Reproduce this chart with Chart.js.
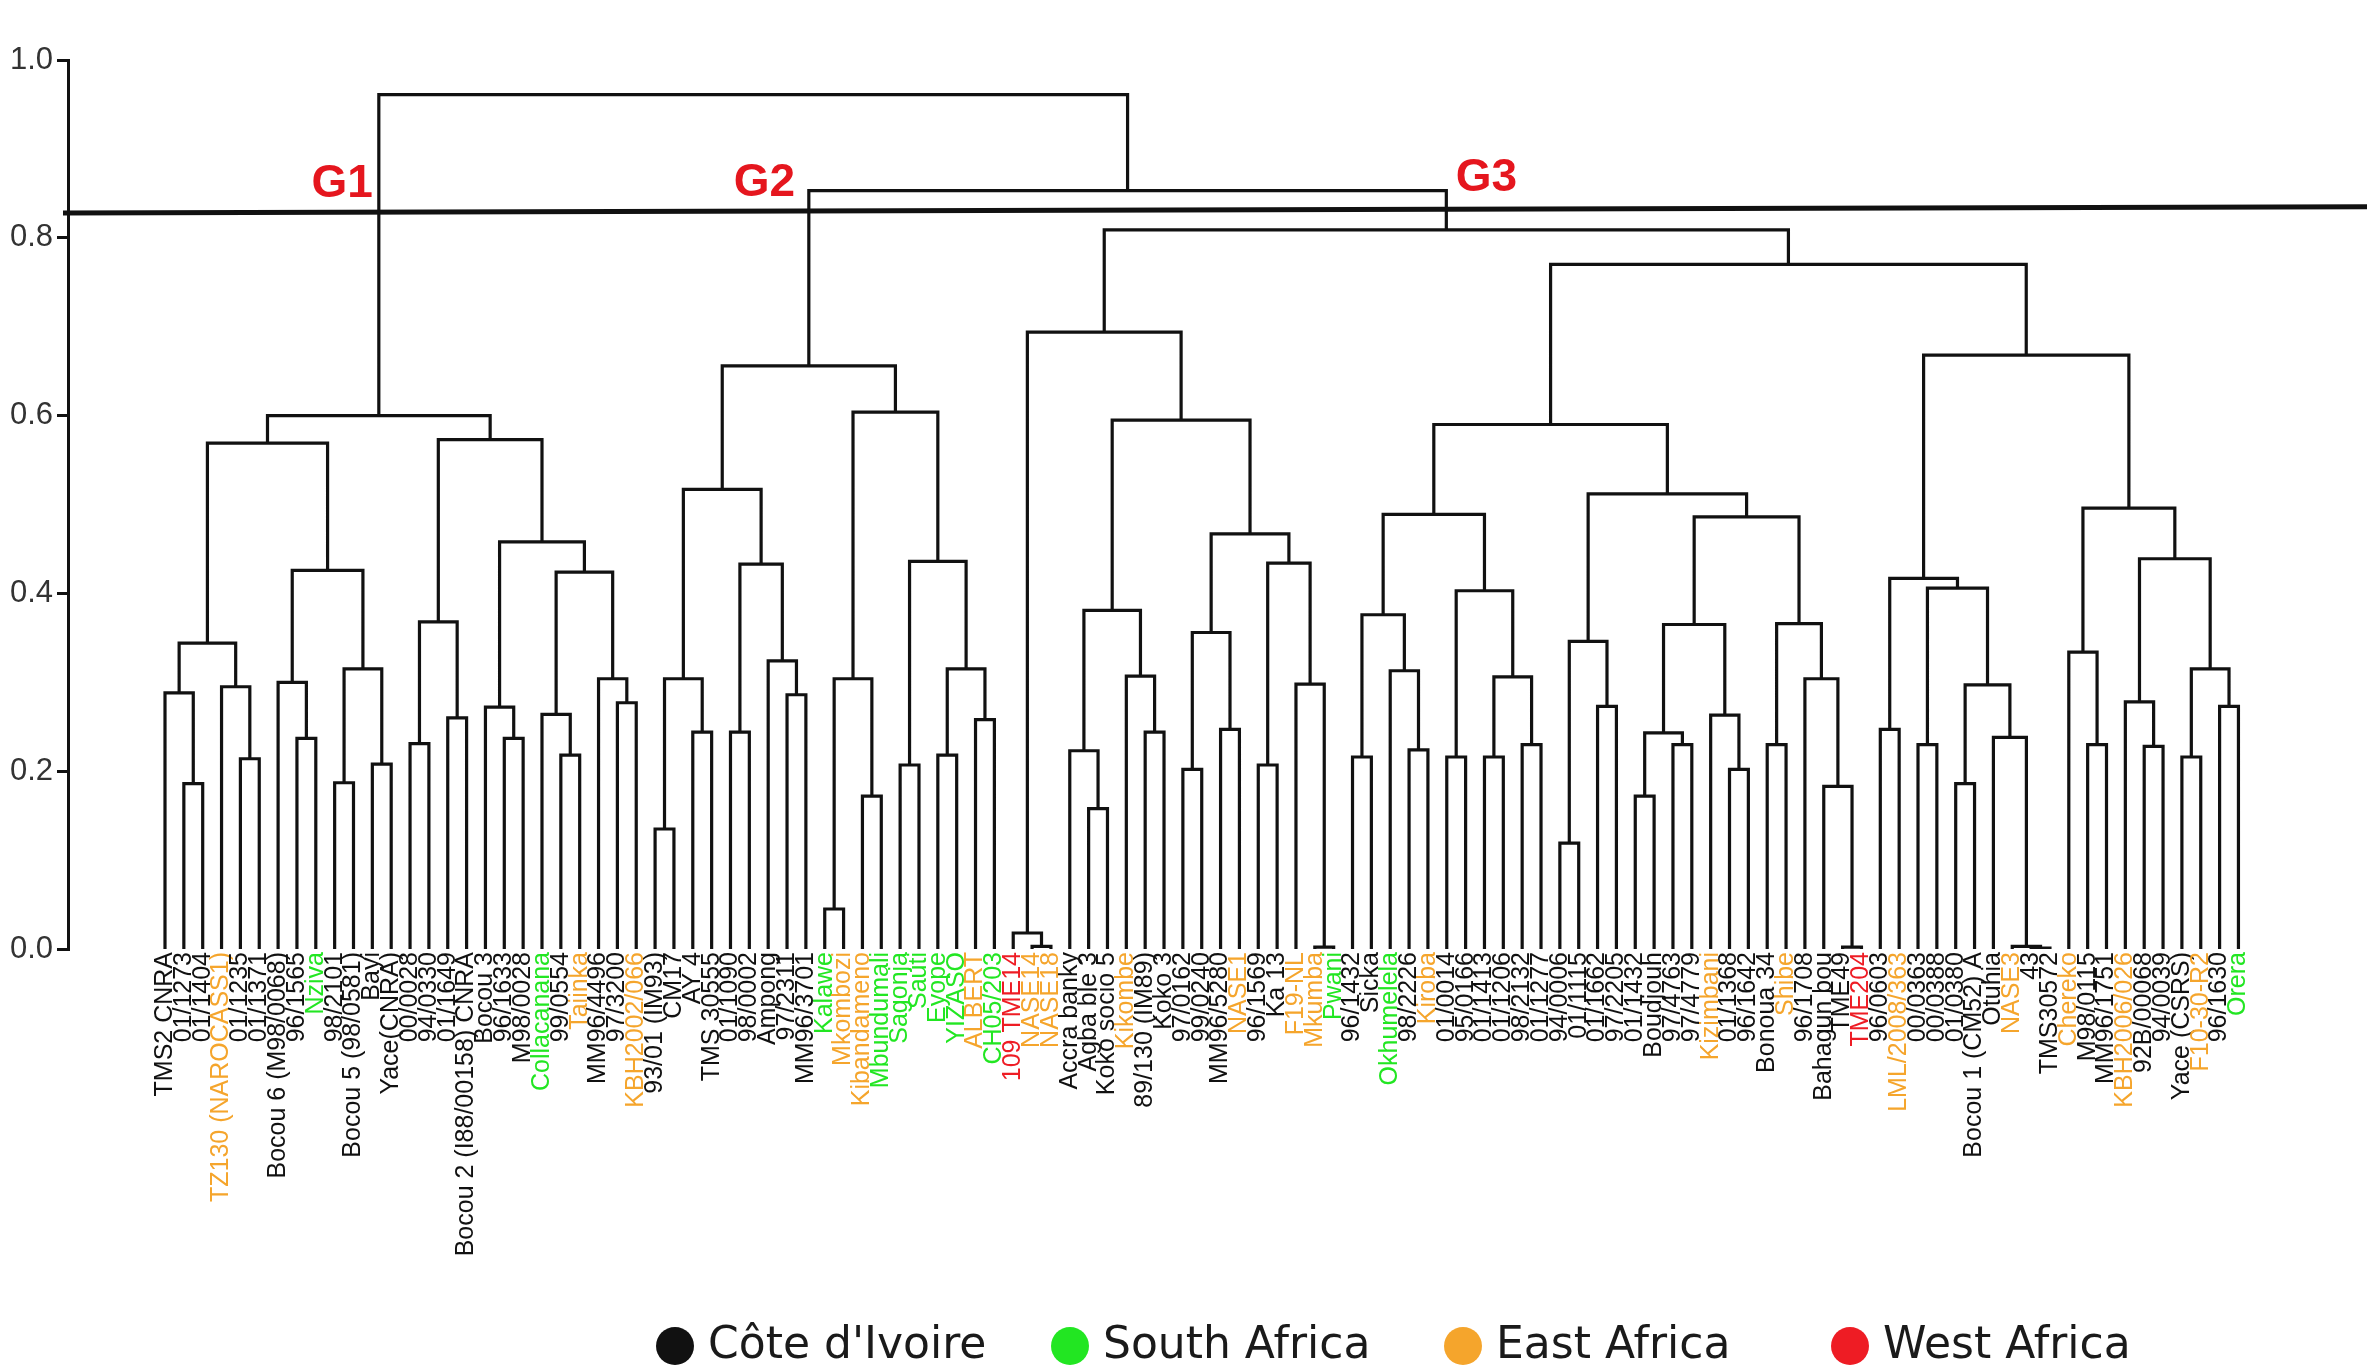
<!DOCTYPE html>
<html>
<head>
<meta charset="utf-8">
<script src="https://cdn.jsdelivr.net/npm/chart.js@4.4.1/dist/chart.umd.min.js"></script>
<style>
  html, body { margin: 0; padding: 0; background: #ffffff; }
  #wrap { width: 2372px; height: 1371px; position: relative; }
</style>
</head>
<body>
<div id="wrap"><canvas id="dendro"></canvas></div>
<script>
// Accessions in dendrogram order (left to right)
const leaves = [
  "TMS2 CNRA", "01/1273", "01/1404", "TZ130 (NAROCASS1)", "01/1235", "01/1371",
  "Bocou 6 (M98/0068)", "96/1565", "Nziva", "98/2101", "Bocou 5 (98/0581)", "Bayi",
  "Yace(CNRA)", "00/0028", "94/0330", "01/1649", "Bocou 2 (I88/00158) CNRA", "Bocou 3",
  "96/1633", "M98/0028", "Collacanana", "99/0554", "Taiinka", "MM96/4496",
  "97/3200", "KBH2002/066", "93/01 (IM93)", "CM17", "AY 4", "TMS 30555",
  "01/1090", "98/0002", "Ampong", "97/2311", "MM96/3701", "Kalawe",
  "Mkombozi", "Kibandameno", "Mbundumali", "Sagonja", "Sauti", "Eyope",
  "YIZASO", "ALBERT", "CH05/203", "109 TME14", "NASE14", "NASE18",
  "Accra banky", "Agba ble 3", "Koko socio 5", "Kikombe", "89/130 (IM89)", "Koko 3",
  "97/0162", "99/0240", "MM96/5280", "NASE1", "96/1569", "Ka 13",
  "F19-NL", "Mkumba", "Pwani", "96/1432", "Sicka", "Okhumelela",
  "98/2226", "Kiroba", "01/0014", "95/0166", "01/1413", "01/1206",
  "98/2132", "01/1277", "94/0006", "01/1115", "01/1662", "97/2205",
  "01/1432", "Boudjouh", "97/4763", "97/4779", "Kizimbani", "01/1368",
  "96/1642", "Bonoua 34", "Shibe", "96/1708", "Bahagun bou", "TME49",
  "TME204", "96/0603", "LML/2008/363", "00/0363", "00/0388", "01/0380",
  "Bocou 1 (CM52) A", "Otuhia", "NASE3", "43", "TMS30572", "Chereko",
  "M98/0115", "MM96/1751", "KBH2006/026", "92B/00068", "94/0039", "Yace (CSRS)",
  "F10-30-R2", "96/1630", "Orera"
];

// Origin of the accessions (all others are from Côte d'Ivoire)
const southAfrica = ["Nziva", "Collacanana", "Kalawe", "Mbundumali", "Sagonja", "Sauti",
  "Eyope", "YIZASO", "CH05/203", "Pwani", "Okhumelela", "Orera"];
const eastAfrica = ["TZ130 (NAROCASS1)", "Taiinka", "KBH2002/066", "Mkombozi", "Kibandameno",
  "ALBERT", "NASE14", "NASE18", "Kikombe", "NASE1", "F19-NL", "Mkumba", "Kiroba",
  "Kizimbani", "Shibe", "LML/2008/363", "NASE3", "Chereko", "KBH2006/026", "F10-30-R2"];
const westAfrica = ["109 TME14", "TME204"];

// Agglomeration steps: [first leaf, last leaf of left branch, last leaf of right branch, dissimilarity]
const merges = [
  [1, 1, 2, 0.186], [0, 0, 2, 0.288], [4, 4, 5, 0.214], [3, 3, 5, 0.295], [0, 2, 5, 0.344],
  [7, 7, 8, 0.237], [6, 6, 8, 0.300], [9, 9, 10, 0.187], [11, 11, 12, 0.208], [9, 10, 12, 0.315],
  [6, 8, 12, 0.426], [0, 5, 12, 0.569], [13, 13, 14, 0.231], [15, 15, 16, 0.260], [13, 14, 16, 0.368],
  [18, 18, 19, 0.237], [17, 17, 19, 0.272], [21, 21, 22, 0.218], [20, 20, 22, 0.264], [24, 24, 25, 0.277],
  [23, 23, 25, 0.304], [20, 22, 25, 0.424], [17, 19, 25, 0.458], [13, 16, 25, 0.573], [0, 12, 25, 0.600],
  [26, 26, 27, 0.135], [28, 28, 29, 0.244], [26, 27, 29, 0.304], [30, 30, 31, 0.244], [33, 33, 34, 0.286],
  [32, 32, 34, 0.324], [30, 31, 34, 0.433], [26, 29, 34, 0.517], [35, 35, 36, 0.045], [37, 37, 38, 0.172],
  [35, 36, 38, 0.304], [39, 39, 40, 0.207], [41, 41, 42, 0.218], [43, 43, 44, 0.258], [41, 42, 44, 0.315],
  [39, 40, 44, 0.436], [35, 38, 44, 0.604], [26, 34, 44, 0.656],
  [46, 46, 47, 0.003], [45, 45, 47, 0.018], [49, 49, 50, 0.158], [48, 48, 50, 0.223], [52, 52, 53, 0.244],
  [51, 51, 53, 0.307], [48, 50, 53, 0.381], [54, 54, 55, 0.202], [56, 56, 57, 0.247], [54, 55, 57, 0.356],
  [58, 58, 59, 0.207], [61, 61, 62, 0.002], [60, 60, 62, 0.298], [58, 59, 62, 0.434], [54, 57, 62, 0.467],
  [48, 53, 62, 0.595], [45, 47, 62, 0.694],
  [63, 63, 64, 0.216], [66, 66, 67, 0.224], [65, 65, 67, 0.313], [63, 64, 67, 0.376], [68, 68, 69, 0.216],
  [70, 70, 71, 0.216], [72, 72, 73, 0.230], [70, 71, 73, 0.306], [68, 69, 73, 0.403], [63, 67, 73, 0.489],
  [74, 74, 75, 0.119], [76, 76, 77, 0.273], [74, 75, 77, 0.346], [78, 78, 79, 0.172], [80, 80, 81, 0.230],
  [78, 79, 81, 0.243], [83, 83, 84, 0.202], [82, 82, 84, 0.263], [78, 81, 84, 0.365], [85, 85, 86, 0.230],
  [89, 89, 90, 0.002], [88, 88, 90, 0.183], [87, 87, 90, 0.304], [85, 86, 90, 0.366], [78, 84, 90, 0.486],
  [74, 77, 90, 0.512], [63, 73, 90, 0.590],
  [91, 91, 92, 0.247], [93, 93, 94, 0.230], [95, 95, 96, 0.186], [99, 99, 100, 0.001], [98, 98, 100, 0.003],
  [97, 97, 100, 0.238], [95, 96, 100, 0.297], [93, 94, 100, 0.406], [91, 92, 100, 0.417], [102, 102, 103, 0.230],
  [101, 101, 103, 0.334], [105, 105, 106, 0.228], [104, 104, 106, 0.278], [107, 107, 108, 0.216], [109, 109, 110, 0.273],
  [107, 108, 110, 0.315], [104, 106, 110, 0.439], [101, 103, 110, 0.496], [91, 100, 110, 0.668],
  [63, 90, 110, 0.770], [45, 62, 110, 0.809], [26, 44, 110, 0.853], [0, 25, 110, 0.961]
];

const yTicks = [0, 0.2, 0.4, 0.6, 0.8, 1.0];
const cutHeights = [0.828, 0.835];          // group threshold line (left end, right end)
const groupNames = ["G1", "G2", "G3"];
const regionNames = ["Côte d'Ivoire", "South Africa", "East Africa", "West Africa"];

// ---- styling / layout ----
const regionColours = ["#111111", "#22e622", "#f5a52c", "#ee1c24"];
const groupLabelAnchor = [[9.4, 0.860], [31.8, 0.861], [70.1, 0.867]];   // leaf units, height
const legendCentres = [675, 1070, 1463, 1850];
const legendY = 1346;
const xMin = -5.146, xMax = 116.82;

function originOf(name) {
  if (southAfrica.includes(name)) return 1;
  if (eastAfrica.includes(name)) return 2;
  if (westAfrica.includes(name)) return 3;
  return 0;
}

// Build the dendrogram segments from the agglomeration steps
const nodes = {};
leaves.forEach((_, i) => { nodes[i + "-" + i] = { x: i, h: 0 }; });
const segments = [];
merges.forEach(([lo, mid, hi, h]) => {
  const L = nodes[lo + "-" + mid];
  const R = nodes[(mid + 1) + "-" + hi];
  segments.push({ x: L.x, y: L.h }, { x: L.x, y: h }, { x: R.x, y: h }, { x: R.x, y: R.h }, { x: R.x, y: null });
  nodes[lo + "-" + hi] = { x: (L.x + R.x) / 2, h: h };
});

const overlay = {
  id: 'overlay',
  afterDatasetsDraw(chart) {
    const { ctx, chartArea, scales } = chart;
    const xs = scales.x, ys = scales.y;
    ctx.save();
    // threshold line
    ctx.strokeStyle = '#111111';
    ctx.lineWidth = 5;
    ctx.beginPath();
    ctx.moveTo(chartArea.left - 5, ys.getPixelForValue(cutHeights[0]));
    ctx.lineTo(chart.width - 5, ys.getPixelForValue(cutHeights[1]));
    ctx.stroke();
    // group names
    ctx.fillStyle = '#e5161e';
    ctx.font = 'bold 46px "Liberation Sans", Arial, sans-serif';
    ctx.textAlign = 'center';
    ctx.textBaseline = 'middle';
    groupNames.forEach((g, i) => {
      ctx.fillText(g, xs.getPixelForValue(groupLabelAnchor[i][0]), ys.getPixelForValue(groupLabelAnchor[i][1]));
    });
    ctx.restore();
  },
  afterDraw(chart) {
    const ctx = chart.ctx;
    ctx.save();
    ctx.font = '44px "DejaVu Sans", sans-serif';
    ctx.textAlign = 'left';
    ctx.textBaseline = 'middle';
    regionNames.forEach((r, i) => {
      const cx = legendCentres[i];
      ctx.fillStyle = regionColours[i];
      ctx.beginPath();
      ctx.arc(cx, legendY, 19, 0, Math.PI * 2);
      ctx.fill();
      ctx.fillStyle = '#1a1a1a';
      ctx.fillText(r, cx + 33, legendY + 1);
    });
    ctx.restore();
  }
};

new Chart(document.getElementById('dendro'), {
  type: 'line',
  data: {
    datasets: [{
      data: segments,
      borderColor: '#111111',
      borderWidth: 3.2,
      pointRadius: 0,
      tension: 0,
      spanGaps: false,
      borderJoinStyle: 'miter',
      borderCapStyle: 'butt',
      fill: false
    }]
  },
  options: {
    responsive: true,
    maintainAspectRatio: false,
    devicePixelRatio: 1,
    animation: false,
    events: [],
    layout: { padding: { top: 60, right: 5, bottom: 100, left: 0 } },
    plugins: { legend: { display: false }, tooltip: { enabled: false } },
    scales: {
      x: {
        type: 'linear',
        min: xMin,
        max: xMax,
        afterBuildTicks: (axis) => { axis.ticks = leaves.map((_, i) => ({ value: i })); },
        afterFit: (axis) => { axis.height = 322; },
        grid: { display: false, drawTicks: false },
        border: { display: false },
        ticks: {
          autoSkip: false,
          minRotation: 90,
          maxRotation: 90,
          padding: 3,
          font: { family: '"Liberation Sans", Arial, sans-serif', size: 25 },
          color: (c) => regionColours[originOf(leaves[c.index])],
          callback: (v, i) => leaves[i]
        }
      },
      y: {
        min: 0,
        max: 1,
        afterBuildTicks: (axis) => { axis.ticks = yTicks.map(v => ({ value: v })); },
        afterFit: (axis) => { axis.width = 68; },
        grid: { display: true, drawOnChartArea: false, drawTicks: true, tickLength: 11, color: '#111111', lineWidth: 3 },
        border: { display: true, color: '#111111', width: 3 },
        ticks: {
          padding: 4,
          color: '#333333',
          font: { family: '"Liberation Sans", Arial, sans-serif', size: 31 },
          callback: (v) => v.toFixed(1)
        }
      }
    }
  },
  plugins: [overlay]
});
</script>
</body>
</html>
